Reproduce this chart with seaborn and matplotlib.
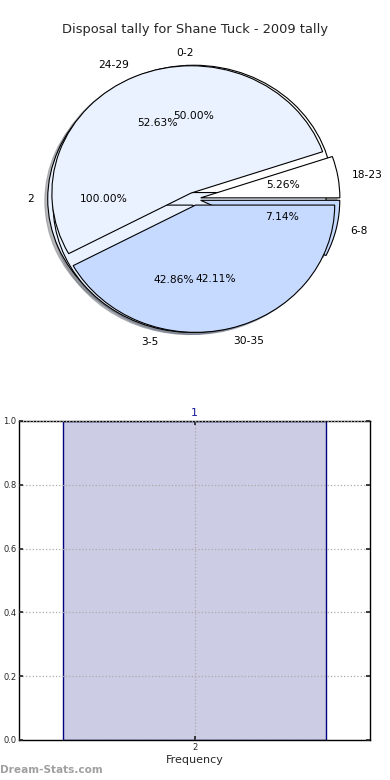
import matplotlib
matplotlib.use("Agg")
import matplotlib.pyplot as plt
import seaborn as sns
import pandas as pd

title = "Disposal tally for Shane Tuck - 2009 tally"

# three tallies drawn on top of each other
labels_a = ["2"]
counts_a = [1]
labels_b = ["0-2", "3-5", "6-8"]
counts_b = [7, 6, 1]
labels_c = ["18-23", "24-29", "30-35"]
counts_c = [1, 10, 8]

colors_a = ["#EBF2FF"]
colors_b = ["#FFFFFF", "#EBF2FF", "#C6D9FF"]
colors_c = ["#FFFFFF", "#EBF2FF", "#C6D9FF"]

freq_labels = ["2"]
freq_values = [1]

sns.set_theme(style="white")
plt.rcParams["font.family"] = ["DejaVu Sans"]

fig = plt.figure(figsize=(3.9, 7.8), dpi=100)

# pie part
ax_pie = fig.add_axes([0.051, 0.541, 0.892, 0.408])
for labels, counts, colors in [(labels_a, counts_a, colors_a),
                               (labels_b, counts_b, colors_b),
                               (labels_c, counts_c, colors_c)]:
    ax_pie.pie(counts, labels=labels, colors=colors,
               explode=[0.05] * len(counts),
               shadow={"ox": -0.015, "oy": -0.012, "shade": 0.5, "alpha": 0.5},
               autopct="%1.2f%%", startangle=0,
               wedgeprops=dict(edgecolor="black", linewidth=0.8),
               textprops=dict(fontsize=7.7, color="black"))
ax_pie.set_aspect("auto")
ax_pie.set_xlim(-1.25, 1.25)
ax_pie.set_ylim(-1.25, 1.25)
fig.text(0.5, 1 - 30 / 780, title, ha="center", va="center", fontsize=9.35)

# frequency bar
ax_bar = fig.add_axes([0.049, 0.0513, 0.9, 0.409])
df = pd.DataFrame({"tally": freq_labels, "count": freq_values})
sns.barplot(data=df, x="tally", y="count", color="#CCCCE4", saturation=1,
            edgecolor="#000080", linewidth=1, width=0.75, ax=ax_bar)
ax_bar.bar_label(ax_bar.containers[0], color="#1A1AA0", fontsize=8, padding=2)
ax_bar.set_xlim(-0.5, 0.5)
ax_bar.set_ylim(0, 1)
ax_bar.set_yticks([0, 0.2, 0.4, 0.6, 0.8, 1.0])
ax_bar.set_yticklabels(["0.0", "0.2", "0.4", "0.6", "0.8", "1.0"])
ax_bar.grid(True, linestyle=":", color="#AAAAAA", linewidth=0.9)
ax_bar.set_axisbelow(False)
ax_bar.tick_params(direction="in", length=3, labelsize=6, right=True, top=True,
                   left=True, bottom=True, pad=2)
for s in ax_bar.spines.values():
    s.set_color("black")
    s.set_linewidth(1)
ax_bar.set_xlabel("Frequency", fontsize=8, labelpad=2)
ax_bar.set_ylabel("")

fig.text(0.0, 1 - 770 / 780, "Dream-Stats.com", color="#A0A0A0",
         fontsize=7.6, fontweight="bold", va="center")

fig.savefig("out.png", dpi=100)
